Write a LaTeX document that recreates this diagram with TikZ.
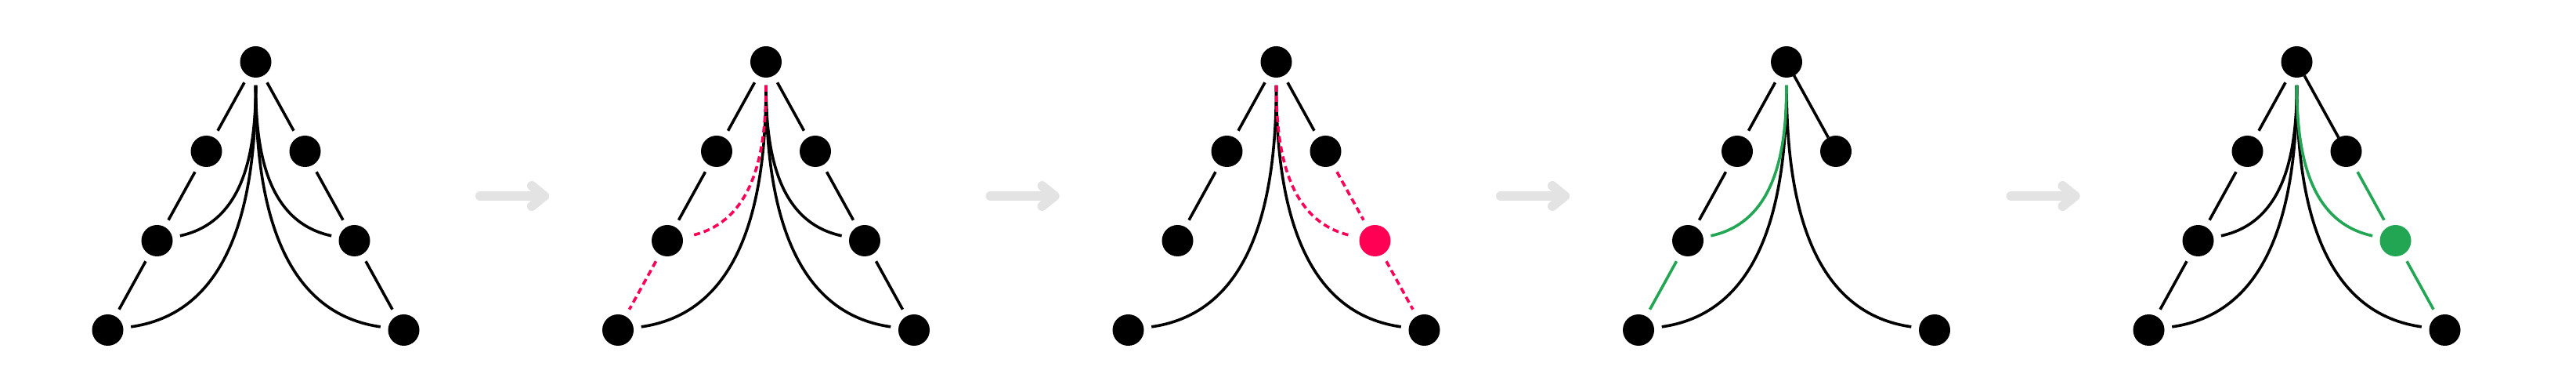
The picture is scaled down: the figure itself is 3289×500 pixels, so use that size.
\documentclass[tikz,border=0pt]{standalone}
\definecolor{pinkc}{HTML}{FF0055}
\definecolor{greenc}{HTML}{22A654}
\definecolor{arrowc}{HTML}{E3E3E3}
\tikzset{
  dot/.style={circle,fill=black,draw=none,minimum size=40pt,inner sep=0pt,outer sep=10pt},
  edge/.style={line width=3.6pt,draw=black},
  pdash/.style={edge,draw=pinkc,dash pattern=on 8pt off 5pt},
  gline/.style={edge,draw=greenc},
  touch/.style={shorten <=-10pt,shorten >=-10pt},
  arr/.style={line width=12pt,draw=arrowc,line cap=round,line join=round},
  cl2/.style={out=-90,in=12},
  cl3/.style={out=-90,in=8},
  cr2/.style={out=-90,in=168},
  cr3/.style={out=-90,in=172},
}
\newcommand\mktree[2]{%
  \node[dot] (#1r) at (#2,421) {};
  \node[dot] (#1a) at (#2-63,307) {};
  \node[dot] (#1b) at (#2+63,307) {};
  \node[dot] (#1c) at (#2-126,193) {};
  \node[dot] (#1e) at (#2-189,79) {};
  \node[dot] (#1f) at (#2+189,79) {};
}
\newcommand\mkarrow[2]{%
  \coordinate (#1s) at (#2-41,250);
  \coordinate (#1t) at (#2+41,250);
  \coordinate (#1u) at (#2+25,263);
  \coordinate (#1v) at (#2+25,237);
  \draw[arr] (#1s) -- (#1t);
  \draw[arr] (#1u) -- (#1t) -- (#1v);
}
\begin{document}
\begin{tikzpicture}[x=1pt,y=1pt]
\useasboundingbox (0,0) rectangle (3289,500);
% panel 1
\mktree{A}{326.5}
\node[dot] (Ad) at (326.5+126,193) {};
\draw[edge] (Ar) -- (Aa);
\draw[edge] (Aa) -- (Ac);
\draw[edge] (Ac) -- (Ae);
\draw[edge] (Ar) -- (Ab);
\draw[edge] (Ab) -- (Ad);
\draw[edge] (Ad) -- (Af);
\draw[edge] (Ar) to[cl2] (Ac);
\draw[edge] (Ar) to[cl3] (Ae);
\draw[edge] (Ar) to[cr2] (Ad);
\draw[edge] (Ar) to[cr3] (Af);
% panel 2
\mktree{B}{978}
\node[dot] (Bd) at (978+126,193) {};
\draw[edge] (Br) -- (Ba);
\draw[edge] (Ba) -- (Bc);
\draw[edge] (Br) -- (Bb);
\draw[edge] (Bb) -- (Bd);
\draw[edge] (Bd) -- (Bf);
\draw[edge] (Br) to[cl3] (Be);
\draw[edge] (Br) to[cr2] (Bd);
\draw[edge] (Br) to[cr3] (Bf);
\draw[pdash] (Bc) -- (Be);
\draw[pdash] (Br) to[cl2] (Bc);
% panel 3
\mktree{C}{1629.5}
\node[dot,fill=pinkc] (Cd) at (1629.5+126,193) {};
\draw[edge] (Cr) -- (Ca);
\draw[edge] (Ca) -- (Cc);
\draw[edge] (Cr) -- (Cb);
\draw[edge] (Cr) to[cl3] (Ce);
\draw[edge] (Cr) to[cr3] (Cf);
\draw[pdash] (Cb) -- (Cd);
\draw[pdash] (Cd) -- (Cf);
\draw[pdash] (Cr) to[cr2] (Cd);
% panel 4
\mktree{D}{2281}
\draw[edge] (Dr) -- (Da);
\draw[edge] (Da) -- (Dc);
\draw[edge,touch] (Dr) -- (Db);
\draw[edge] (Dr) to[cl3] (De);
\draw[edge] (Dr) to[cr3] (Df);
\draw[gline] (Dc) -- (De);
\draw[gline] (Dr) to[cl2] (Dc);
% panel 5
\mktree{E}{2932.5}
\node[dot,fill=greenc] (Ed) at (2932.5+126,193) {};
\draw[edge] (Er) -- (Ea);
\draw[edge] (Ea) -- (Ec);
\draw[edge] (Ec) -- (Ee);
\draw[edge,touch] (Er) -- (Eb);
\draw[edge] (Er) to[cl2] (Ec);
\draw[edge] (Er) to[cl3] (Ee);
\draw[edge] (Er) to[cr3] (Ef);
\draw[gline] (Eb) -- (Ed);
\draw[gline] (Ed) -- (Ef);
\draw[gline] (Er) to[cr2] (Ed);
% arrows
\mkarrow{P}{654}
\mkarrow{Q}{1305.5}
\mkarrow{R}{1957}
\mkarrow{S}{2608.5}
\end{tikzpicture}
\end{document}
